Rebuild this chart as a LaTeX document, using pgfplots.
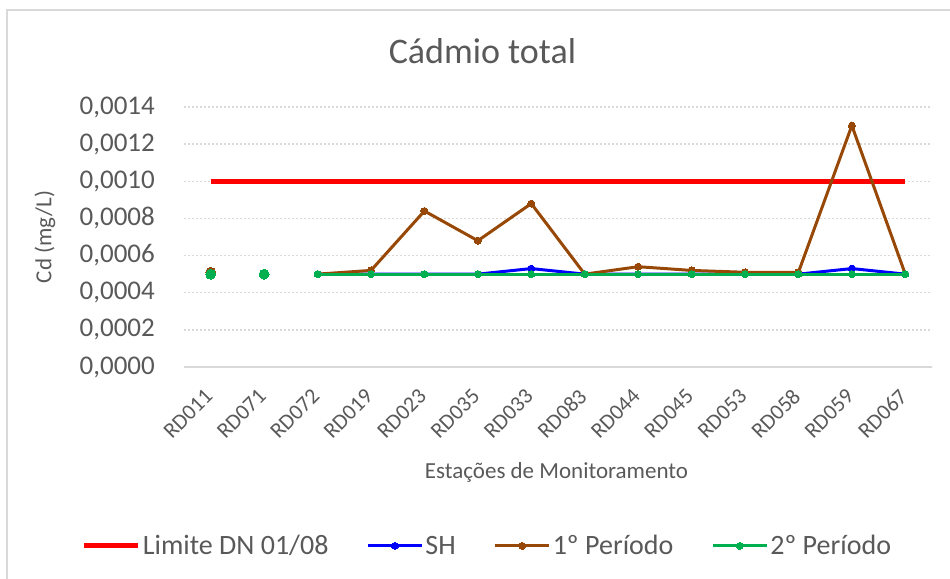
\documentclass[border=0pt]{standalone}
\usepackage{fontspec}
\setmainfont{Carlito}
\usepackage{pgfplots}
\pgfplotsset{compat=1.18}
\definecolor{txt}{HTML}{595959}
\definecolor{gridc}{HTML}{D9D9D9}
\definecolor{limred}{HTML}{FF0000}
\definecolor{shblue}{HTML}{0000FF}
\definecolor{brownp}{HTML}{974806}
\definecolor{greenp}{HTML}{00B050}
\begin{document}
\begin{tikzpicture}
\useasboundingbox (0,0) rectangle (950bp,579bp);
\draw[gridc, line width=2bp] (7bp,-20bp) -- (7bp,569bp) -- (980bp,569bp);
\begin{axis}[
  at={(184bp,212bp)}, anchor=south west,
  scale only axis, width=748bp, height=260bp,
  xmin=-0.5, xmax=13.5, ymin=0, ymax=0.0014,
  xtick={0,1,2,3,4,5,6,7,8,9,10,11,12,13},
  xticklabels={RD011,RD071,RD072,RD019,RD023,RD035,RD033,RD083,RD044,RD045,RD053,RD058,RD059,RD067},
  ytick={0,0.0002,0.0004,0.0006,0.0008,0.0010,0.0012,0.0014},
  yticklabels={{0,0000},{0,0002},{0,0004},{0,0006},{0,0008},{0,0010},{0,0012},{0,0014}},
  scaled y ticks=false,
  major tick length=0pt,
  axis lines*=left,
  y axis line style={draw=none},
  x axis line style={draw=gridc, line width=1.5bp},
  ymajorgrids,
  major grid style={draw=gridc, line width=1.5bp, dash pattern=on 1.5bp off 2.5bp},
  yticklabel style={font=\fontsize{27bp}{30bp}\selectfont, text=txt, anchor=east, inner sep=0pt, xshift=-29bp},
  xticklabel style={font=\fontsize{22bp}{24bp}\selectfont, text=txt, rotate=45, anchor=east, inner sep=0pt, xshift=-19.5bp, yshift=-17bp},
  title={Cádmio total},
  title style={at={(axis description cs:0.399,1.19)}, anchor=center, font=\fontsize{36bp}{40bp}\selectfont, text=txt},
  xlabel={Estações de Monitoramento},
  xlabel style={at={(axis description cs:0.498,-0.404)}, anchor=center, font=\fontsize{23bp}{26bp}\selectfont, text=txt},
  ylabel={Cd (mg/L)},
  ylabel style={at={(axis description cs:-0.186,0.5)}, anchor=center, font=\fontsize{23bp}{26bp}\selectfont, text=txt},
  legend columns=4,
  legend style={at={(axis description cs:0.4057,-0.688)}, anchor=center, draw=none, fill=none,
    font=\fontsize{28bp}{30bp}\selectfont, text=txt, inner sep=0pt,
    nodes={inner sep=2bp},
    /tikz/every even column/.append style={column sep=36bp}},
  legend image code/.code={\draw[mark repeat=2, mark phase=2] plot coordinates {(0bp,0bp) (27bp,0bp) (54bp,0bp)};},
]
\addplot[limred, line width=5bp, no markers] coordinates {(0,0.0010) (13,0.0010)};
\addlegendentry{Limite DN 01/08}
\addplot[shblue, line width=3bp, mark=*, mark size=3.5bp, mark options={line width=0pt, fill=shblue}] coordinates {
(2,0.0005) (3,0.0005) (4,0.0005) (5,0.0005) (6,0.00053) (7,0.0005) (8,0.0005) (9,0.0005) (10,0.0005) (11,0.0005) (12,0.00053) (13,0.0005)};
\addlegendentry{SH}
\addplot[brownp, line width=3bp, mark=*, mark size=3.5bp, mark options={line width=0pt, fill=brownp}] coordinates {
(2,0.0005) (3,0.00052) (4,0.00084) (5,0.00068) (6,0.00088) (7,0.0005) (8,0.00054) (9,0.00052) (10,0.00051) (11,0.00051) (12,0.0013) (13,0.0005)};
\addlegendentry{1º Período}
\addplot[greenp, line width=3bp, mark=*, mark size=3.5bp, mark options={line width=0pt, fill=greenp}] coordinates {
(2,0.0005) (3,0.0005) (4,0.0005) (5,0.0005) (6,0.0005) (7,0.0005) (8,0.0005) (9,0.0005) (10,0.0005) (11,0.0005) (12,0.0005) (13,0.0005)};
\addlegendentry{2º Período}
\addplot[forget plot, only marks, brownp, mark=*, mark size=5bp, mark options={line width=0pt, fill=brownp}] coordinates {(0,0.00051)};
\addplot[forget plot, only marks, greenp, mark=*, mark size=5bp, mark options={line width=0pt, fill=greenp}] coordinates {(0,0.0005) (1,0.0005)};
\end{axis}
\end{tikzpicture}
\end{document}
